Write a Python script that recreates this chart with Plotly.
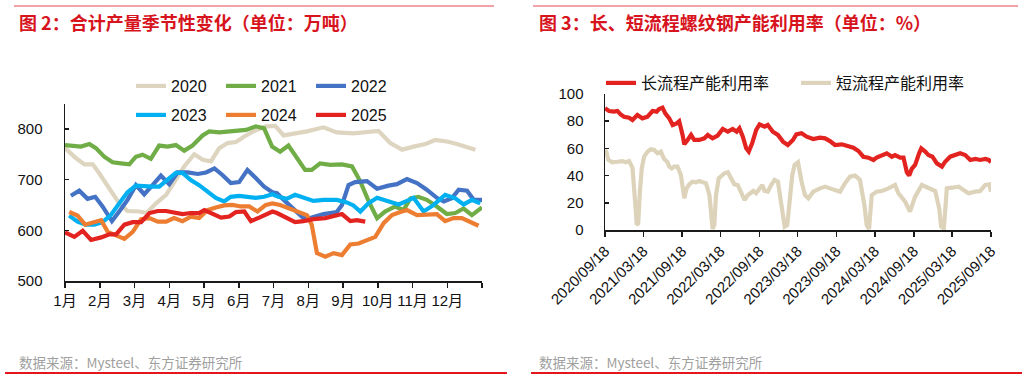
import plotly.graph_objects as go

# ---------------- left chart data (x = month position, 0 = start of Jan) ----------------
month_labels = ["1月", "2月", "3月", "4月", "5月", "6月", "7月", "8月", "9月", "10月", "11月", "12月", ""]
month_ticks = [0, 1, 2, 3, 4, 5, 6, 7, 8, 9, 10, 11, 12]

x_2020 = [0.0, 0.32, 0.56, 0.80, 0.99, 1.28, 1.56, 1.80, 2.14, 2.35, 2.62, 2.91, 3.14, 3.43, 3.72, 3.96, 4.20, 4.44, 4.68, 4.92,
          5.16, 5.45, 5.78, 6.05, 6.29, 6.67, 6.96, 7.44, 7.82, 8.30, 8.69, 9.02, 9.36, 9.70, 10.03, 10.37, 10.65, 10.99, 11.28, 11.81]
v_2020 = [762, 742, 730, 730, 712, 683, 653, 638, 637, 634, 653, 670, 696, 726, 750, 739, 736, 762, 772, 774,
          785, 796, 805, 806, 787, 791, 795, 803, 793, 791, 793, 796, 772, 759, 765, 770, 778, 775, 770, 759]

x_2021 = [0, 0.46, 0.70, 0.89, 1.13, 1.37, 1.61, 1.85, 2.04, 2.23, 2.47, 2.71, 2.95, 3.19, 3.43, 3.67, 3.96, 4.15, 4.44, 4.73,
          4.97, 5.21, 5.49, 5.73, 5.96, 6.19, 6.43, 6.67, 6.91, 7.10, 7.34, 7.63, 7.97, 8.26, 8.50, 8.74, 8.98, 9.21, 9.50, 9.74,
          9.94, 10.17, 10.41, 10.70, 10.99, 11.23, 11.47, 11.71, 12.0]
v_2021 = [768, 765, 770, 762, 745, 734, 732, 730, 745, 749, 741, 767, 765, 768, 757, 767, 787, 795, 793, 795,
          796, 798, 805, 801, 765, 755, 767, 742, 719, 719, 732, 729, 730, 726, 696, 657, 624, 637, 647, 640,
          663, 666, 660, 647, 632, 634, 643, 630, 645]

x_2022 = [0.17, 0.41, 0.65, 0.87, 1.08, 1.35, 1.56, 1.80, 2.04, 2.28, 2.52, 2.76, 3.0, 3.24, 3.53, 3.82, 4.06, 4.30, 4.53, 4.77,
          5.01, 5.25, 5.49, 5.73, 5.97, 6.10, 6.34, 6.62, 6.86, 7.10, 7.44, 7.82, 7.97, 8.16, 8.35, 8.69, 8.98, 9.31, 9.55, 9.84,
          10.13, 10.41, 10.70, 10.90, 11.13, 11.33, 11.57, 11.76, 12.0]
v_2022 = [668, 678, 662, 666, 647, 618, 637, 660, 689, 671, 689, 708, 691, 714, 714, 711, 714, 722, 709, 693,
          695, 719, 703, 686, 675, 673, 657, 640, 624, 625, 632, 636, 650, 689, 695, 697, 682, 688, 691, 701,
          693, 680, 664, 657, 663, 680, 678, 660, 660]

x_2023 = [0.12, 0.36, 0.60, 0.84, 1.08, 1.32, 1.56, 1.80, 2.04, 2.28, 2.52, 2.71, 2.95, 3.19, 3.38, 3.62, 3.86, 4.10, 4.34, 4.58,
          4.77, 5.01, 5.25, 5.49, 5.73, 5.97, 6.14, 6.38, 6.62, 6.86, 7.15, 7.44, 7.82, 8.11, 8.30, 8.50, 8.73, 8.98, 9.26, 9.60,
          9.84, 10.03, 10.32, 10.61, 10.94, 11.23, 11.47, 11.71, 11.95]
v_2023 = [629, 617, 611, 611, 616, 630, 653, 675, 688, 686, 686, 686, 699, 713, 713, 699, 689, 676, 664, 657,
          666, 668, 666, 664, 666, 671, 666, 662, 670, 664, 658, 660, 660, 655, 649, 637, 653, 664, 658, 651,
          658, 664, 637, 650, 670, 663, 651, 660, 653]

x_2024 = [0.12, 0.36, 0.58, 0.80, 1.04, 1.23, 1.47, 1.71, 1.95, 2.19, 2.43, 2.67, 2.91, 3.14, 3.38, 3.62, 3.86, 4.10, 4.34, 4.58,
          4.82, 5.06, 5.30, 5.54, 5.78, 5.97, 6.19, 6.48, 6.77, 6.96, 7.10, 7.25, 7.49, 7.73, 7.97, 8.21, 8.45, 8.69, 8.93, 9.17,
          9.41, 9.65, 9.84, 10.13, 10.41, 10.70, 10.94, 11.18, 11.42, 11.66, 11.90]
v_2024 = [636, 629, 611, 616, 620, 597, 591, 583, 597, 622, 624, 617, 617, 624, 618, 627, 624, 640, 645, 649,
          650, 647, 647, 637, 650, 653, 650, 642, 634, 630, 611, 555, 548, 555, 551, 572, 574, 581, 587, 614,
          630, 636, 640, 630, 630, 632, 618, 624, 624, 617, 609]

x_2025 = [0, 0.27, 0.51, 0.75, 1.04, 1.28, 1.47, 1.71, 1.95, 2.19, 2.43, 2.67, 2.91, 3.14, 3.38, 3.62, 3.86, 4.01, 4.25, 4.49,
          4.73, 4.92, 5.16, 5.35, 5.59, 5.83, 5.97, 6.10, 6.38, 6.62, 6.86, 7.15, 7.49, 7.78, 7.97, 8.21, 8.40, 8.64]
v_2025 = [596, 587, 599, 581, 586, 592, 592, 611, 616, 616, 634, 638, 638, 636, 632, 634, 634, 640, 632, 625,
          627, 636, 637, 618, 625, 632, 637, 634, 624, 616, 618, 622, 624, 629, 632, 618, 620, 617]

# ---------------- right chart data ----------------
date_ticks = ["2020-09-18", "2021-03-18", "2021-09-18", "2022-03-18", "2022-09-18", "2023-03-18",
              "2023-09-18", "2024-03-18", "2024-09-18", "2025-03-18", "2025-09-18"]

long_dates = ["2020-09-18", "2020-10-07", "2020-10-31", "2020-11-16", "2020-12-01", "2020-12-17", "2021-01-10", "2021-01-26",
              "2021-02-18", "2021-03-14", "2021-04-07", "2021-05-01", "2021-05-20", "2021-06-01", "2021-06-17", "2021-06-30",
              "2021-07-19", "2021-08-04", "2021-08-23", "2021-09-04", "2021-09-20", "2021-09-28", "2021-10-14", "2021-10-30",
              "2021-11-14", "2021-12-08", "2022-01-01", "2022-01-17", "2022-02-09", "2022-03-05", "2022-03-29", "2022-04-22",
              "2022-05-15", "2022-06-03", "2022-06-16", "2022-07-02", "2022-07-18", "2022-07-30", "2022-08-15", "2022-09-03",
              "2022-09-19", "2022-10-13", "2022-10-28", "2022-11-21", "2022-12-15", "2023-01-08", "2023-01-31", "2023-02-24",
              "2023-03-12", "2023-04-06", "2023-04-30", "2023-05-31", "2023-07-02", "2023-07-26", "2023-08-18", "2023-09-11",
              "2023-10-13", "2023-11-13", "2023-12-07", "2023-12-31", "2024-01-23", "2024-02-16", "2024-03-11", "2024-03-26",
              "2024-04-19", "2024-05-13", "2024-06-06", "2024-06-21", "2024-07-15", "2024-07-31", "2024-08-16", "2024-08-27",
              "2024-09-08", "2024-09-24", "2024-10-13", "2024-10-23", "2024-11-11", "2024-11-26", "2024-12-15", "2025-01-05",
              "2025-01-29", "2025-02-13", "2025-03-09", "2025-04-02", "2025-04-25", "2025-05-19", "2025-06-12", "2025-07-06",
              "2025-07-29", "2025-08-22", "2025-09-07", "2025-09-18"]
long_rate = [89.5, 87.5, 87.0, 87.5, 85.0, 83.3, 82.6, 80.9, 84.6, 82.1, 83.3, 87.5, 87.0, 89.0, 90.0, 85.8,
             82.1, 77.2, 78.4, 80.0, 69.9, 63.0, 66.2, 69.9, 66.2, 66.2, 67.4, 69.9, 67.4, 69.4, 74.3, 72.3,
             74.3, 72.3, 74.8, 68.6, 60.0, 57.6, 63.7, 73.5, 77.7, 76.0, 77.2, 72.3, 69.9, 65.0, 62.5, 66.2,
             70.3, 71.1, 68.6, 66.9, 67.9, 67.4, 65.4, 62.5, 63.0, 61.3, 60.5, 58.1, 53.9, 53.2, 51.5, 53.2,
             55.1, 56.4, 53.9, 55.1, 53.2, 53.2, 42.4, 40.0, 44.9, 47.8, 56.4, 60.0, 57.6, 55.1, 53.9, 49.0,
             46.6, 50.2, 53.9, 55.6, 56.4, 55.1, 51.5, 52.2, 51.5, 52.2, 51.5, 49.8]

short_dates = ["2020-09-18", "2020-09-24", "2020-10-04", "2020-10-23", "2020-11-16", "2020-12-09", "2020-12-25", "2021-01-10",
               "2021-01-26", "2021-02-03", "2021-02-11", "2021-02-15", "2021-02-22", "2021-03-02", "2021-03-11", "2021-03-22",
               "2021-04-07", "2021-04-23", "2021-05-09", "2021-05-24", "2021-06-09", "2021-06-25", "2021-07-11", "2021-07-19",
               "2021-07-31", "2021-08-11", "2021-08-27", "2021-09-12", "2021-09-20", "2021-09-28", "2021-10-09", "2021-10-22",
               "2021-11-06", "2021-11-22", "2021-12-08", "2021-12-24", "2022-01-09", "2022-01-25", "2022-02-01", "2022-02-09",
               "2022-02-17", "2022-02-25", "2022-03-10", "2022-03-21", "2022-04-06", "2022-04-22", "2022-05-08", "2022-05-23",
               "2022-06-08", "2022-06-24", "2022-07-10", "2022-07-26", "2022-08-10", "2022-08-21", "2022-09-03", "2022-09-19",
               "2022-10-02", "2022-10-13", "2022-10-28", "2022-11-13", "2022-11-29", "2022-12-15", "2022-12-23", "2023-01-04",
               "2023-01-16", "2023-01-28", "2023-02-08", "2023-02-21", "2023-03-04", "2023-03-20", "2023-04-06", "2023-04-22",
               "2023-05-08", "2023-05-31", "2023-07-02", "2023-07-26", "2023-08-18", "2023-09-11", "2023-10-05", "2023-10-28",
               "2023-11-21", "2023-12-15", "2024-01-07", "2024-01-28", "2024-02-08", "2024-02-19", "2024-03-03", "2024-03-26",
               "2024-04-19", "2024-05-21", "2024-06-21", "2024-07-07", "2024-08-08", "2024-08-31", "2024-09-24", "2024-10-26",
               "2024-11-26", "2024-12-28", "2025-01-16", "2025-01-25", "2025-02-07", "2025-02-21", "2025-03-17", "2025-04-18",
               "2025-05-11", "2025-06-04", "2025-07-06", "2025-07-29", "2025-08-22", "2025-09-10", "2025-09-18"]
short_rate = [58.8, 57.6, 51.5, 49.8, 50.2, 50.7, 49.8, 50.7, 45.8, 33.1, 13.5, 3.7, 4.9, 28.2, 45.3, 53.9,
              57.6, 59.3, 58.8, 56.4, 57.6, 52.2, 49.8, 46.6, 45.3, 46.6, 46.6, 40.4, 30.6, 23.3, 30.6, 33.6,
              35.5, 35.0, 36.0, 35.5, 34.3, 25.7, 13.5, 0.7, 3.7, 25.7, 38.0, 39.2, 41.7, 42.4, 38.5, 33.6,
              33.1, 27.0, 22.1, 25.7, 27.0, 28.7, 27.0, 30.6, 33.1, 28.7, 28.2, 33.1, 36.8, 35.5, 28.2, 14.7,
              2.5, 3.7, 23.3, 40.4, 47.8, 49.8, 35.5, 25.7, 23.3, 28.2, 30.6, 31.9, 30.6, 29.4, 28.2, 34.3,
              39.2, 40.0, 36.8, 18.4, 3.7, 0.7, 25.7, 28.2, 28.7, 30.6, 33.1, 27.0, 20.8, 13.5, 24.5, 33.1,
              30.6, 28.7, 15.9, 2.5, 1.2, 30.6, 31.1, 31.9, 29.4, 27.0, 28.2, 28.7, 33.1, 33.6, 28.2]

# ---------------- styling ----------------
W, H = 1032, 381
FONT = "Liberation Sans, Arial, Noto Sans CJK SC, sans-serif"
CJK = "Noto Sans CJK SC, Liberation Sans, sans-serif"
C2020, C2021, C2022 = "#DDD5BF", "#70AD47", "#4472C4"
C2023, C2024, C2025 = "#00B0F0", "#ED7D31", "#E3231F"
CLONG, CSHORT = "#E3231F", "#DDD3BA"
LW = 4.2


def px(x):
    return x / W


def py(y):
    return 1 - y / H


fig = go.Figure()

left_series = [
    ("2020", x_2020, v_2020, C2020, "legend"),
    ("2021", x_2021, v_2021, C2021, "legend"),
    ("2022", x_2022, v_2022, C2022, "legend"),
    ("2023", x_2023, v_2023, C2023, "legend2"),
    ("2024", x_2024, v_2024, C2024, "legend2"),
    ("2025", x_2025, v_2025, C2025, "legend2"),
]
for name, xs, ys, col, lg in left_series:
    fig.add_trace(go.Scatter(x=xs, y=ys, name=name, mode="lines", line=dict(color=col, width=LW),
                             xaxis="x", yaxis="y", legend=lg))

fig.add_trace(go.Scatter(x=long_dates, y=long_rate, name="长流程产能利用率", mode="lines",
                         line=dict(color=CLONG, width=LW), xaxis="x2", yaxis="y2", legend="legend3"))
fig.add_trace(go.Scatter(x=short_dates, y=short_rate, name="短流程产能利用率", mode="lines",
                         line=dict(color=CSHORT, width=LW), xaxis="x2", yaxis="y2", legend="legend3"))

axis_common = dict(showline=True, linecolor="#1a1a1a", linewidth=1.5, showgrid=False, zeroline=False,
                   automargin=False, tickcolor="#1a1a1a", tickwidth=1.5,
                   tickfont=dict(family=FONT, size=15, color="#111"))

legend_common = dict(orientation="h", bgcolor="rgba(0,0,0,0)", font=dict(family=FONT, size=16, color="#111"),
                     xanchor="left", yanchor="middle", itemclick=False, tracegroupgap=0)

fig.update_layout(
    template="none",
    width=W, height=H, margin=dict(l=0, r=0, t=0, b=0, autoexpand=False),
    paper_bgcolor="white", plot_bgcolor="white",
    xaxis=dict(axis_common, domain=[px(65), px(482)], range=[0, 12], tickvals=month_ticks, ticktext=month_labels,
               tickangle=0, ticks="outside", ticklen=5, anchor="y", ticklabelstandoff=0),
    yaxis=dict(axis_common, domain=[py(281), py(104)], range=[500, 849], tickvals=[500, 600, 700, 800],
               ticks="inside", ticklen=4, anchor="x", ticklabelstandoff=18),
    xaxis2=dict(axis_common, domain=[px(605), px(991)], range=["2020-09-18", "2025-09-18"], type="date",
                tickvals=date_ticks, tickformat="%Y/%m/%d", tickangle=-45, ticks="outside", ticklen=5, anchor="y2"),
    yaxis2=dict(axis_common, domain=[py(230), py(94)], range=[0, 100], tickvals=[0, 20, 40, 60, 80, 100],
                ticks="inside", ticklen=4, anchor="x2", ticklabelstandoff=17),
    legend=dict(legend_common, x=px(131), y=py(86), entrywidth=45),
    legend2=dict(legend_common, x=px(131), y=py(115), entrywidth=45),
    legend3=dict(legend_common, x=px(601), y=py(83), entrywidth=150),
    showlegend=True,
)

# titles
title_font = dict(family=CJK, size=18, color="#D7141D")
fig.add_annotation(text="<b>图 2：合计产量季节性变化（单位：万吨）</b>", x=px(17), y=py(22), xref="paper", yref="paper",
                   xanchor="left", yanchor="middle", showarrow=False, font=title_font)
fig.add_annotation(text="<b>图 3：长、短流程螺纹钢产能利用率（单位：%）</b>", x=px(537), y=py(22), xref="paper", yref="paper",
                   xanchor="left", yanchor="middle", showarrow=False, font=title_font)

# source notes
src_font = dict(family=CJK, size=13.5, color="#9f9f9f")
fig.add_annotation(text="数据来源：Mysteel、东方证券研究所", x=px(17), y=py(362), xref="paper", yref="paper",
                   xanchor="left", yanchor="middle", showarrow=False, font=src_font)
fig.add_annotation(text="数据来源：Mysteel、东方证券研究所", x=px(537), y=py(362), xref="paper", yref="paper",
                   xanchor="left", yanchor="middle", showarrow=False, font=src_font)

# frame lines
for x0, x1, y, col, w in [(14, 494, 6, "#E84850", 1.2), (533, 1018, 6, "#E84850", 1.2),
                          (5, 507, 373, "#E3161E", 1.8), (531, 1022, 373, "#E3161E", 1.8)]:
    fig.add_shape(type="line", xref="paper", yref="paper", x0=px(x0), x1=px(x1), y0=py(y), y1=py(y),
                  line=dict(color=col, width=w))

fig.write_html("out.html", config={"displayModeBar": False, "staticPlot": True},
               post_script="document.body.style.margin='0';")
